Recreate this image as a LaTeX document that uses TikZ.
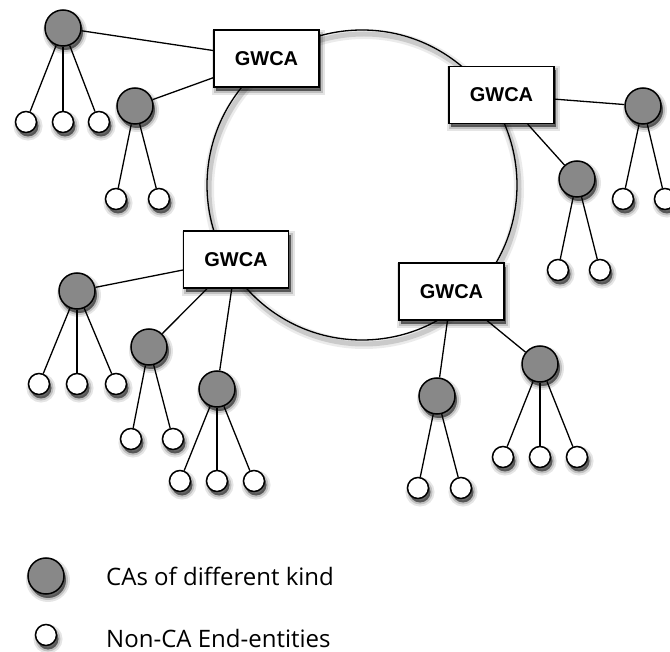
\documentclass[tikz,border=0pt]{standalone}
\usepackage{fontspec}
\setmainfont{Open Sans}
\newfontfamily\labelfont{Liberation Sans}
\definecolor{cagray}{RGB}{136,136,136}
\pgfdeclarelayer{background}
\pgfsetlayers{background,main}

\tikzset{
  shadowshift/.style={transform canvas={xshift=2pt, yshift=-4pt}},
  softshadow/.style={
    preaction={draw=black, fill=black, line width=8pt, draw opacity=0.10, fill opacity=0.10, shadowshift},
    preaction={draw=black, fill=black, line width=4pt, draw opacity=0.16, fill opacity=0.16, shadowshift},
    preaction={draw=none, fill=black, fill opacity=0.40, shadowshift},
  },
  ca/.style={circle, draw=black, line width=1.5pt, fill=cagray, minimum size=36pt, inner sep=0pt, softshadow},
  ee/.style={circle, draw=black, line width=1.5pt, fill=white, minimum size=21pt, inner sep=0pt, softshadow},
  gwca/.style={rectangle, draw=black, line width=1.3pt, fill=white, minimum width=105pt, minimum height=57pt,
    font=\labelfont\bfseries\fontsize{20}{24}\selectfont, softshadow},
  link/.style={draw=black, line width=1.3pt},
  ring/.style={draw=black, line width=1.3pt,
    preaction={draw=black, draw opacity=0.08, line width=10pt, shadowshift},
    preaction={draw=black, draw opacity=0.14, line width=5pt, shadowshift}},
  legendtext/.style={anchor=base west, inner sep=0pt, font=\fontsize{24}{28}\selectfont},
}

\begin{document}
\begin{tikzpicture}[x=1pt, y=-1pt]
  \useasboundingbox (0,0) rectangle (670,652);

  % gateway CAs
  \node[gwca] (b1) at (266.5,58.5) {GWCA};
  \node[gwca] (b2) at (501.5,95) {GWCA};
  \node[gwca] (b3) at (236,259.5) {GWCA};
  \node[gwca] (b4) at (451.5,291.5) {GWCA};

  % CAs below the gateways
  \node[ca] (c1) at (63,28) {};
  \node[ca] (c2) at (135,106) {};
  \node[ca] (c3) at (643,106) {};
  \node[ca] (c4) at (577,179) {};
  \node[ca] (c5) at (77,291) {};
  \node[ca] (c6) at (149,347) {};
  \node[ca] (c7) at (217,389) {};
  \node[ca] (c8) at (437,396) {};
  \node[ca] (c9) at (540,364) {};

  % end entities
  \node[ee] (e11) at (26,122) {};
  \node[ee] (e12) at (63,122) {};
  \node[ee] (e13) at (99,122) {};
  \node[ee] (e21) at (116,199) {};
  \node[ee] (e22) at (159,199) {};
  \node[ee] (e31) at (623,199) {};
  \node[ee] (e32) at (665,199) {};
  \node[ee] (e41) at (558,270) {};
  \node[ee] (e42) at (600,270) {};
  \node[ee] (e51) at (39,384) {};
  \node[ee] (e52) at (77,384) {};
  \node[ee] (e53) at (116,384) {};
  \node[ee] (e61) at (131,439) {};
  \node[ee] (e62) at (173,439) {};
  \node[ee] (e71) at (180,481) {};
  \node[ee] (e72) at (217,481) {};
  \node[ee] (e73) at (254,481) {};
  \node[ee] (e81) at (418,488) {};
  \node[ee] (e82) at (461,488) {};
  \node[ee] (e91) at (503,457) {};
  \node[ee] (e92) at (540,457) {};
  \node[ee] (e93) at (577,457) {};

  % legend
  \node[ca] (lca) at (46,576) {};
  \node[ee] (lee) at (46,635) {};
  \node[legendtext] (tca) at (106,585) {CAs of different kind};
  \node[legendtext] (tee) at (106,647) {Non-CA End-entities};

  \begin{pgfonlayer}{background}
    % ring joining the gateways
    \draw[ring] (362,185) circle[radius=155pt];
    % gateway to CA links
    \foreach \g/\c in {b1/c1, b1/c2, b2/c3, b2/c4, b3/c5, b3/c6, b3/c7, b4/c8, b4/c9}
      \draw[link] (\g) -- (\c);
    % CA to end entity links
    \foreach \c/\e in {c1/e11, c1/e12, c1/e13, c2/e21, c2/e22, c3/e31, c3/e32,
                       c4/e41, c4/e42, c5/e51, c5/e52, c5/e53, c6/e61, c6/e62,
                       c7/e71, c7/e72, c7/e73, c8/e81, c8/e82, c9/e91, c9/e92, c9/e93}
      \draw[link] (\c) -- (\e);
  \end{pgfonlayer}
\end{tikzpicture}
\end{document}
